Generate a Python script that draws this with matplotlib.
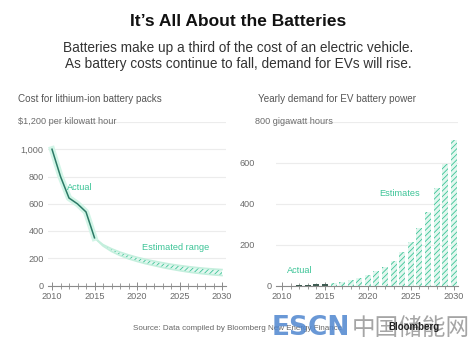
import numpy as np
import matplotlib
matplotlib.use("Agg")
import matplotlib.pyplot as plt
import matplotlib.patheffects as pe
from matplotlib.ticker import MultipleLocator
from matplotlib.transforms import ScaledTranslation

plt.rcParams['font.family'] = ['Liberation Sans', 'DejaVu Sans']
plt.rcParams['hatch.linewidth'] = 0.6

# battery pack cost, $ per kWh
cost_years = [2010, 2011, 2012, 2013, 2014, 2015]
cost_actual = [1000, 800, 642, 599, 540, 350]
est_years = list(range(2015, 2031))
est_high = [350, 300, 270, 245, 225, 207, 192, 179, 167, 156, 147, 139, 132, 126, 121, 117]
est_low = [350, 290, 250, 220, 196, 177, 160, 146, 132, 120, 109, 99, 91, 84, 78, 73]

# yearly EV battery demand, GWh
actual_years = [2012, 2013, 2014, 2015]
actual_demand = [1, 3, 5, 8]
demand_years = list(range(2016, 2031))
demand_est = [11, 16, 25, 36, 49, 70, 90, 118, 162, 211, 280, 360, 478, 594, 711]

left_ticks = [0, 200, 400, 600, 800, 1000, 1200]
left_labels = ["0", "200", "400", "600", "800", "1,000", ""]
right_ticks = [0, 200, 400, 600, 800]
right_labels = ["0", "200", "400", "600", ""]

GREEN = "#3cc497"
DARK = "#2b7a66"
PALE = "#e2f7ef"
GRID = "#ececec"
AXIS = "#8a8a8a"
LABEL = "#6b6b6b"

fig = plt.figure(figsize=(4.76, 3.46), dpi=100)
fig.patch.set_facecolor("white")

fig.text(0.5, 1 - 21 / 346, "It\u2019s All About the Batteries", ha="center", va="center",
         fontsize=12.5, fontweight="bold", color="#111111")
fig.text(0.5, 1 - 48 / 346, "Batteries make up a third of the cost of an electric vehicle.",
         ha="center", va="center", fontsize=9.8, color="#333333")
fig.text(0.5, 1 - 64 / 346, "As battery costs continue to fall, demand for EVs will rise.",
         ha="center", va="center", fontsize=9.8, color="#333333")


def style_axes(ax, xlo, ticks, labels, top):
    ax.set_xlim(xlo, 2030.5)
    ax.set_ylim(0, top)
    for s in ["top", "right", "left"]:
        ax.spines[s].set_visible(False)
    ax.spines["bottom"].set_color(AXIS)
    ax.spines["bottom"].set_linewidth(0.8)
    ax.set_yticks(ticks)
    ax.set_yticklabels(labels)
    ax.yaxis.grid(True, color=GRID, linewidth=0.8)
    ax.set_axisbelow(True)
    ax.tick_params(axis="y", length=0, labelsize=6.6, labelcolor=LABEL, pad=3)
    ax.set_xticks([2010, 2015, 2020, 2025, 2030])
    ax.xaxis.set_minor_locator(MultipleLocator(1))
    ax.tick_params(axis="x", which="major", direction="inout", length=6, width=0.7,
                   color=AXIS, labelsize=6.6, labelcolor=LABEL, pad=1.5)
    ax.tick_params(axis="x", which="minor", direction="inout", length=4, width=0.6, color=AXIS)


# left panel: pack prices
ax1 = fig.add_axes([47.75 / 476, 1 - 285.5 / 346, 178.5 / 476, 163.5 / 346])
style_axes(ax1, 2009.5, left_ticks, left_labels, 1200)
glow = [pe.Stroke(linewidth=4.5, foreground="#d2f5e7"), pe.Normal()]
ax1.fill_between(est_years, est_low, est_high, facecolor=PALE, edgecolor=GREEN,
                 hatch="//////", linewidth=0, zorder=2)
ax1.plot(est_years, est_high, color="#c4efdd", linewidth=1.2, zorder=2)
ax1.plot(est_years, est_low, color="#c4efdd", linewidth=1.2, zorder=2)
ax1.plot(cost_years, cost_actual, color=DARK, linewidth=1.1, zorder=3, path_effects=glow)
ax1.text(2011.75, 720, "Actual", color=GREEN, fontsize=6.6, ha="left", va="center")
ax1.text(2020.6, 282, "Estimated range", color=GREEN, fontsize=6.6, ha="left", va="center")

fig.text(18 / 476, 1 - 122 / 346, "$1,200 per kilowatt hour", fontsize=6.6, color=LABEL,
         ha="left", va="center")
fig.text(18 / 476, 1 - 99 / 346, "Cost for lithium-ion battery packs", fontsize=7.1,
         color="#555555", ha="left", va="center", fontweight="medium")

# right panel: demand
ax2 = fig.add_axes([276 / 476, 1 - 285.5 / 346, 182 / 476, 163.5 / 346])
style_axes(ax2, 2009.3, right_ticks, right_labels, 800)
ax2.tick_params(axis="y", pad=15)
shift = ScaledTranslation(12 / 72, 0, fig.dpi_scale_trans)
zero_label = ax2.get_yticklabels()[0]
zero_label.set_transform(zero_label.get_transform() + shift)
ax2.bar(actual_years, actual_demand, width=0.7, color="#3f5c52", zorder=3)
ax2.bar(demand_years, demand_est, width=0.7, facecolor=PALE, edgecolor=GREEN,
        hatch="//////", linewidth=0, zorder=3)
ax2.text(2010.6, 75, "Actual", color=GREEN, fontsize=6.6, ha="left", va="center")
ax2.text(2021.3, 450, "Estimates", color=GREEN, fontsize=6.6, ha="left", va="center")

fig.text(255 / 476, 1 - 122 / 346, "800 gigawatt hours", fontsize=6.6, color=LABEL,
         ha="left", va="center")
fig.text(258 / 476, 1 - 99 / 346, "Yearly demand for EV battery power", fontsize=7.1,
         color="#555555", ha="left", va="center", fontweight="medium")

fig.text(133 / 476, 1 - 328 / 346, "Source: Data compiled by Bloomberg New Energy Finance",
         fontsize=5.8, color="#666666", ha="left", va="center")

# site watermark
fig.text(272 / 476, 1 - 328 / 346, "ESCN", fontsize=19, fontweight="bold", color="#4f86cf",
         alpha=0.85, ha="left", va="center", family=["DejaVu Sans"])
fig.text(352 / 476, 1 - 328 / 346, "中国储能网", fontsize=17, color="#8f8f8f", alpha=0.8,
         ha="left", va="center", family=["Noto Sans CJK SC", "DejaVu Sans"])
fig.text(388 / 476, 1 - 327 / 346, "Bloomberg", fontsize=7, fontweight="bold", color="#222222",
         ha="left", va="center")

fig.savefig("out.png", dpi=100, facecolor="white")
